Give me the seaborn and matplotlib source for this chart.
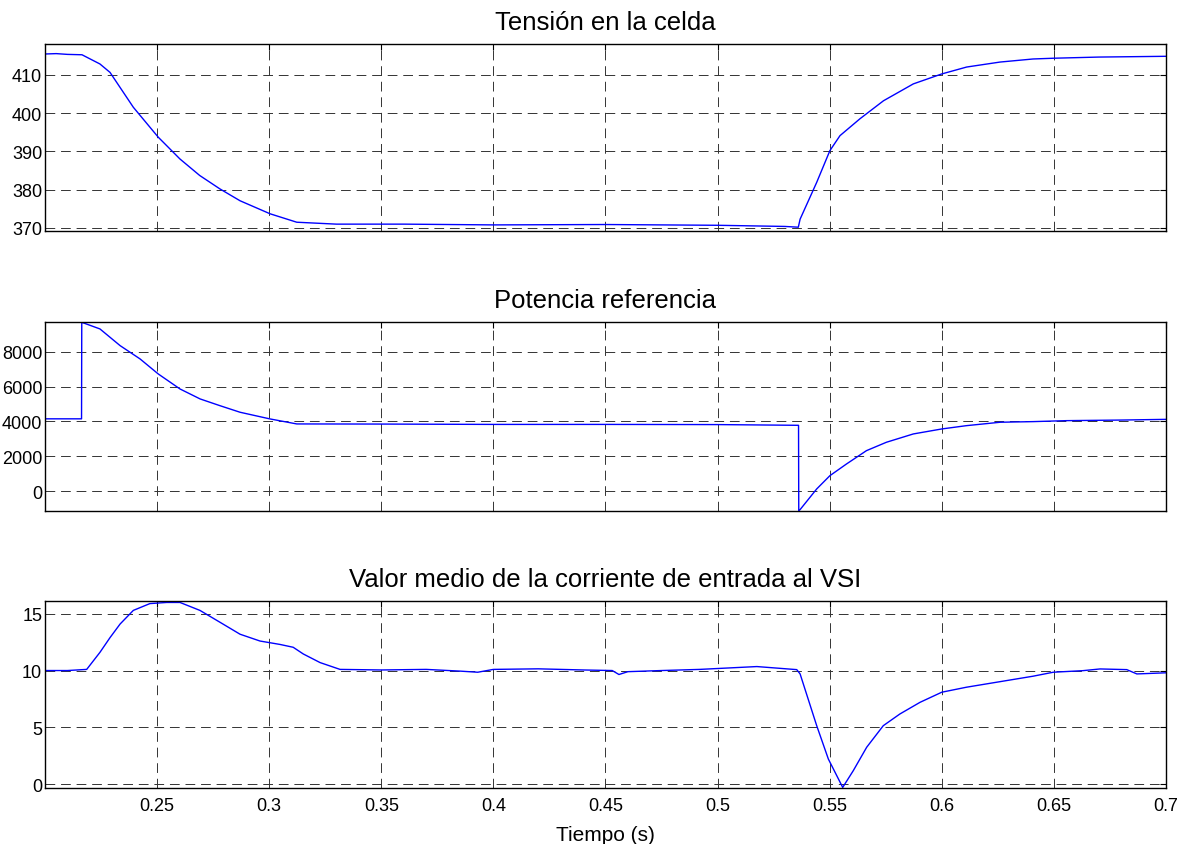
import numpy as np
import pandas as pd
import matplotlib
matplotlib.use("Agg")
import matplotlib.pyplot as plt
import seaborn as sns

# ---- data ----
t_volt = [0.200, 0.205, 0.210, 0.2165, 0.2245, 0.229, 0.2394, 0.2505, 0.2602, 0.269,
          0.278, 0.287, 0.3004, 0.3123, 0.330, 0.360, 0.400, 0.450, 0.500, 0.530,
          0.536, 0.5368, 0.5442, 0.5501, 0.5546, 0.5635, 0.574, 0.5873, 0.600, 0.6111,
          0.626, 0.6407, 0.650, 0.670, 0.700]
v_volt = [415.4, 415.5, 415.3, 415.2, 412.8, 410.6, 401.5, 393.7, 388.0, 383.7,
          380.2, 377.1, 373.7, 371.5, 371.0, 371.0, 370.8, 370.9, 370.7, 370.4,
          370.2, 372.3, 381.9, 390.2, 394.1, 398.5, 403.2, 407.6, 410.2, 412.0,
          413.3, 414.1, 414.3, 414.6, 414.8]

t_pow = [0.200, 0.210, 0.2163, 0.2164, 0.2245, 0.2335, 0.2424, 0.2505, 0.2602, 0.2692,
         0.278, 0.287, 0.3004, 0.3123, 0.350, 0.400, 0.450, 0.500, 0.535, 0.5361,
         0.5362, 0.5368, 0.5442, 0.5501, 0.5575, 0.5664, 0.5753, 0.5873, 0.600, 0.611,
         0.626, 0.6407, 0.6556, 0.680, 0.700]
p_pow = [4150, 4150, 4150, 9680, 9301, 8344, 7582, 6722, 5862, 5289,
         4905, 4527, 4143, 3857, 3850, 3830, 3830, 3820, 3780, 3780,
         -1120, -1050, 132, 894, 1564, 2327, 2808, 3284, 3570, 3759,
         3954, 3990, 4046, 4080, 4120]

t_cur = [0.200, 0.210, 0.2186, 0.2245, 0.229, 0.2335, 0.2394, 0.2468, 0.2543, 0.2602,
         0.2691, 0.278, 0.287, 0.2959, 0.3048, 0.3107, 0.3152, 0.3227, 0.3316, 0.350,
         0.370, 0.385, 0.393, 0.400, 0.420, 0.440, 0.453, 0.456, 0.460, 0.475,
         0.492, 0.5175, 0.5353, 0.5368, 0.5442, 0.5494, 0.5558, 0.5605, 0.5665, 0.5739,
         0.5813, 0.5903, 0.600, 0.611, 0.626, 0.6407, 0.6497, 0.663, 0.6706, 0.6825,
         0.687, 0.700]
c_cur = [10.0, 10.0, 10.1, 11.6, 12.9, 14.1, 15.3, 15.9, 16.0, 16.0,
         15.3, 14.26, 13.2, 12.6, 12.3, 12.05, 11.46, 10.7, 10.1, 10.05,
         10.1, 9.95, 9.85, 10.1, 10.15, 10.05, 10.0, 9.65, 9.9, 10.0,
         10.1, 10.35, 10.08, 9.7, 5.14, 2.2, -0.3, 1.17, 3.24, 5.14,
         6.17, 7.2, 8.09, 8.53, 9.02, 9.5, 9.85, 9.99, 10.14, 10.08,
         9.7, 9.8]

titles = ["Tensión en la celda", "Potencia referencia",
          "Valor medio de la corriente de entrada al VSI"]
yticks_list = [[370, 380, 390, 400, 410], [0, 2000, 4000, 6000, 8000], [0, 5, 10, 15]]
ylims = [(369.2, 418.0), (-1130, 9700), (-0.38, 16.1)]
xticks = [0.25, 0.3, 0.35, 0.4, 0.45, 0.5, 0.55, 0.6, 0.65, 0.7]
xtick_labels = ["0.25", "0.3", "0.35", "0.4", "0.45", "0.5", "0.55", "0.6", "0.65", "0.7"]
xlabel = "Tiempo (s)"

# ---- style ----
sns.set_style("white")
plt.rcParams["font.family"] = ["Liberation Sans", "DejaVu Sans"]
plt.rcParams["text.color"] = "black"
plt.rcParams["axes.labelcolor"] = "black"
plt.rcParams["xtick.color"] = "black"
plt.rcParams["ytick.color"] = "black"

fig = plt.figure(figsize=(11.81, 8.45), dpi=100)
rects = [[0.0381, 0.7254, 0.9492, 0.2213],
         [0.0381, 0.3941, 0.9492, 0.2237],
         [0.0381, 0.0659, 0.9492, 0.2213]]

series = [(t_volt, v_volt), (t_pow, p_pow), (t_cur, c_cur)]

for i, (rect, (tx, vy)) in enumerate(zip(rects, series)):
    ax = fig.add_axes(rect)
    df = pd.DataFrame({"t": tx, "v": vy})
    sns.lineplot(data=df, x="t", y="v", ax=ax, color="#0000FF", linewidth=1.0,
                 estimator=None, sort=False)
    ax.set_xlim(0.2, 0.7)
    ax.set_ylim(*ylims[i])
    ax.set_xticks(xticks)
    ax.set_yticks(yticks_list[i])
    ax.set_xlabel("")
    ax.set_ylabel("")
    ax.set_title(titles[i], fontsize=18.5, pad=11, color="black")
    ax.grid(True, color="0.2", linewidth=0.7, linestyle=(0, (10, 6)))
    ax.tick_params(direction="in", top=True, right=True, length=4, width=0.8,
                   labelsize=13, pad=2, color="black", labelcolor="black")
    ax.tick_params(axis="x", pad=6)
    for s in ax.spines.values():
        s.set_visible(True)
        s.set_color("black")
        s.set_linewidth(1.0)
    if i < 2:
        ax.set_xticklabels([])
    else:
        ax.set_xticklabels(xtick_labels)
        ax.set_xlabel(xlabel, fontsize=15, labelpad=8, color="black")

fig.savefig("out.png", dpi=100, facecolor="white")
